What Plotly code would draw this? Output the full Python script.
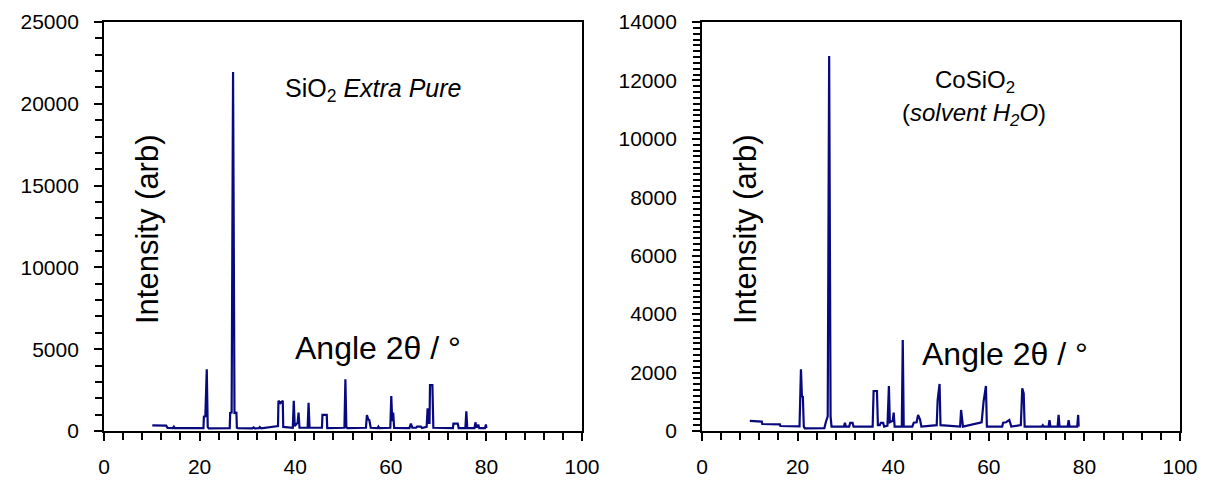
import plotly.graph_objects as go

# ---- data: SiO2 Extra Pure (left panel) ----
angle_sio2 = [10.1, 13.0, 13.3, 14.4, 14.6, 14.8, 20.8, 20.9, 21.2, 21.5, 21.7, 21.9,
              26.3, 26.4, 26.7, 27.0, 27.3, 27.7, 27.8, 28.0,
              31.0, 31.3, 31.5, 32.4, 32.6, 32.9,
              36.4, 36.5, 36.9, 37.4, 37.5,
              39.5, 39.7, 39.9, 40.5, 40.7, 40.9,
              42.6, 42.8, 43.0,
              45.6, 45.7, 46.6, 46.7,
              50.3, 50.5, 50.7, 50.9,
              54.8, 55.0, 55.3, 55.5, 55.8,
              57.2, 57.4, 57.6,
              59.9, 60.1, 60.3, 60.5, 60.7,
              63.9, 64.2, 64.5, 65.3, 65.5, 66.3, 66.5,
              67.5, 67.7, 67.9, 68.1, 68.2, 68.7, 68.9,
              73.0, 73.1, 74.0, 74.2,
              75.6, 75.8, 76.0,
              77.5, 77.7, 77.9, 78.2, 78.3, 78.5,
              79.7, 79.9, 80.0]
int_sio2 = [340, 330, 190, 180, 260, 170, 170, 880, 900, 3770, 250, 160,
            170, 1100, 1120, 21950, 1100, 1120, 200, 170,
            160, 220, 160, 170, 240, 160,
            300, 1850, 1700, 1850, 250,
            200, 1850, 300, 500, 1120, 200,
            200, 1730, 200,
            200, 980, 980, 180,
            200, 3160, 250, 170,
            200, 980, 700, 670, 200,
            170, 265, 170,
            200, 2140, 600, 1120, 190,
            180, 450, 200, 200, 265, 265, 180,
            250, 1390, 500, 500, 2810, 2810, 200,
            180, 450, 450, 170,
            180, 1200, 180,
            180, 530, 250, 250, 400, 170,
            170, 400, 180]

# ---- data: CoSiO2, solvent H2O (right panel) ----
angle_cosio2 = [10.0, 12.5, 12.6, 16.3, 16.4, 20.4, 20.7, 20.9, 21.1, 21.3, 21.5,
                25.6, 25.9, 26.3, 26.6, 26.9, 27.1,
                29.7, 29.9, 30.1, 30.8, 31.0, 31.5, 31.7,
                35.7, 35.9, 36.6, 36.8, 37.2, 37.4, 37.9, 38.1,
                38.8, 39.1, 39.3, 39.9, 40.1, 40.3,
                41.8, 42.0, 42.2,
                44.0, 44.3, 44.9, 45.2, 45.6, 45.9,
                49.1, 49.3, 49.7, 49.9,
                54.0, 54.2, 54.4, 54.6,
                58.5, 58.9, 59.4, 59.6,
                62.8, 63.0, 63.6, 64.3, 64.7,
                66.7, 67.0, 67.3, 67.5,
                71.1, 71.3, 71.5, 72.5, 72.7, 72.9,
                74.4, 74.6, 74.8,
                76.5, 76.7, 76.9,
                78.5, 78.7, 78.8]
int_cosio2 = [350, 320, 240, 230, 170, 160, 2110, 1200, 1170, 150, 90,
              100, 300, 500, 12840, 500, 150,
              150, 280, 150, 150, 280, 280, 150,
              150, 1370, 1370, 200, 200, 280, 280, 150,
              180, 1540, 300, 350, 630, 150,
              150, 3115, 150,
              150, 285, 300, 550, 400, 150,
              200, 1060, 1610, 200,
              150, 720, 375, 150,
              300, 1000, 1540, 150,
              150, 285, 300, 375, 150,
              200, 1460, 1290, 150,
              150, 200, 150, 150, 375, 150,
              150, 550, 150,
              150, 375, 150,
              150, 550, 150]

x_ticks = [0, 20, 40, 60, 80, 100]

FONT = "Liberation Sans, Arial, sans-serif"
LINE_COLOR = "#08087f"
OFF = 8                      # page body margin offset
W, H = 1205 - OFF, 483 - OFF

def px(x):
    return (x - OFF) / W

def py(y):
    return 1 - (y - OFF) / H

fig = go.Figure()
fig.add_trace(go.Scatter(x=angle_sio2, y=int_sio2, mode="lines",
                         line=dict(color=LINE_COLOR, width=2.2),
                         xaxis="x", yaxis="y", showlegend=False))
fig.add_trace(go.Scatter(x=angle_cosio2, y=int_cosio2, mode="lines",
                         line=dict(color=LINE_COLOR, width=2.2),
                         xaxis="x2", yaxis="y2", showlegend=False))

def xax(domain, anchor):
    return dict(domain=domain, anchor=anchor, range=[0, 100], automargin=False,
                tickvals=x_ticks, ticks="outside", ticklen=8, tickwidth=1.5,
                tickcolor="black", showline=True, linecolor="black", linewidth=1.8,
                mirror=True, showgrid=False, zeroline=False,
                tickfont=dict(family=FONT, size=21, color="black"),
                ticklabelstandoff=8,
                minor=dict(dtick=4, ticks="outside", ticklen=7, tickwidth=1.5,
                           tickcolor="black", showgrid=False))

def yax(domain, anchor, rng, dtick, mdtick):
    return dict(domain=domain, anchor=anchor, range=rng, dtick=dtick,
                tickformat="d", automargin=False,
                ticks="outside", ticklen=8, tickwidth=1.5, tickcolor="black",
                showline=True, linecolor="black", linewidth=1.8, mirror=True,
                showgrid=False, zeroline=False,
                tickfont=dict(family=FONT, size=21, color="black"),
                ticklabelstandoff=11,
                minor=dict(dtick=mdtick, ticks="outside", ticklen=7, tickwidth=1.5,
                           tickcolor="black", showgrid=False))

yd = [py(431), py(22)]
fig.update_layout(
    width=W, height=H, margin=dict(l=0, r=0, t=0, b=0),
    paper_bgcolor="white", plot_bgcolor="white",
    xaxis=xax([px(104), px(582)], "y"),
    yaxis=yax(yd, "x", [0, 25000], 5000, 1000),
    xaxis2=xax([px(702), px(1180)], "y2"),
    yaxis2=yax(yd, "x2", [0, 14000], 2000, 200),
)

def ann(text, x, y, size, angle=0):
    return dict(text=text, x=px(x), y=py(y), xref="paper", yref="paper",
                showarrow=False, xanchor="center", yanchor="middle", textangle=angle,
                font=dict(family=FONT, size=size, color="black"))

fig.update_layout(annotations=[
    ann("SiO<sub>2</sub> <i>Extra Pure</i>", 373, 90, 25),
    ann("CoSiO<sub>2</sub>", 975, 82, 24),
    ann("(<i>solvent H<sub>2</sub>O</i>)", 974, 114, 24),
    ann("Intensity (arb)", 147, 229, 31, -90),
    ann("Intensity (arb)", 745, 229, 31, -90),
    ann("Angle 2θ / °", 378, 348, 32),
    ann("Angle 2θ / °", 1005, 354, 32),
])

fig.write_html("out.html")
